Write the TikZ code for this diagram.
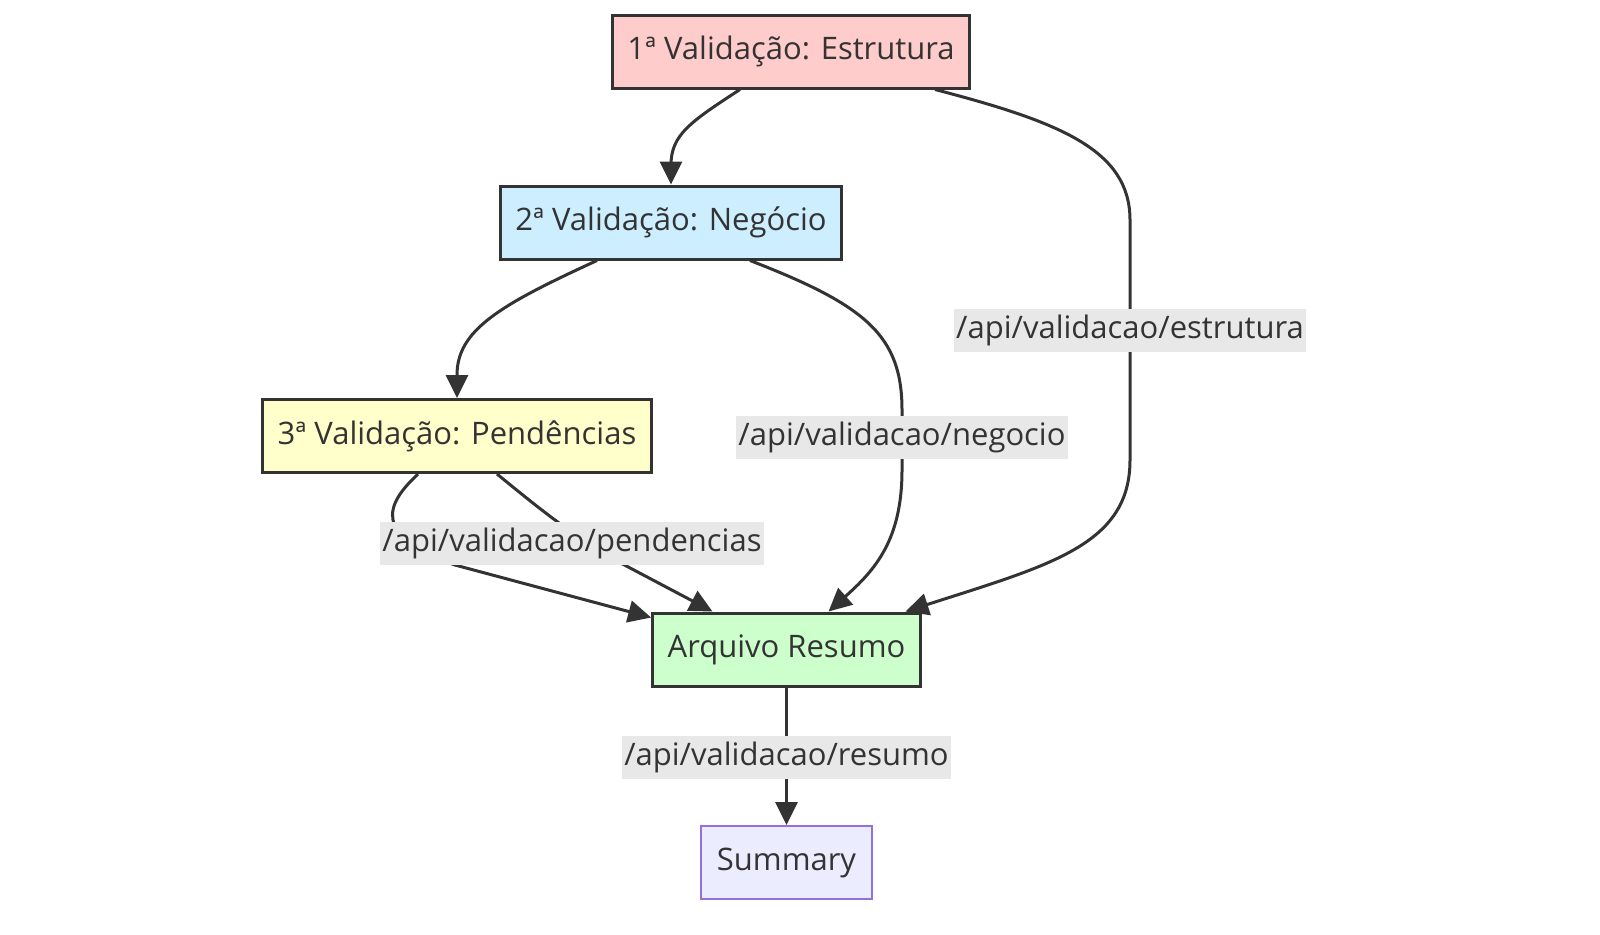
\documentclass[tikz,border=0pt]{standalone}
\usepackage{fontspec}
\setmainfont{Open Sans}
\usetikzlibrary{arrows.meta}
\definecolor{ink}{HTML}{333333}
\definecolor{estrutura}{HTML}{FFCCCC}
\definecolor{negocio}{HTML}{CCEEFF}
\definecolor{pendencias}{HTML}{FFFFCC}
\definecolor{resumo}{HTML}{CCFFCC}
\definecolor{summary}{HTML}{ECECFF}
\definecolor{summaryline}{HTML}{9370DB}
\definecolor{labelbg}{HTML}{E8E8E8}
\begin{document}
\begin{tikzpicture}[x=0.5pt, y=-0.5pt,
    every node/.style={font=\fontsize{15.5}{19}\selectfont, text=ink},
    stepnode/.style={draw=ink, line width=1.5pt, minimum height=36.5pt, inner xsep=7.5pt},
    flow/.style={draw=ink, line width=1.5pt, -{Triangle[length=11.5pt, width=11pt]}},
    route/.style={fill=labelbg, inner xsep=1pt, inner ysep=3pt}]
    \useasboundingbox (0,0) rectangle (1600,934);

    % nodes
    \node[stepnode, fill=estrutura] (val1) at (791,51.5) {1ª Validação: Estrutura};
    \node[stepnode, fill=negocio] (val2) at (671,222.5) {2ª Validação: Negócio};
    \node[stepnode, fill=pendencias] (val3) at (457,436) {3ª Validação: Pendências};
    \node[stepnode, fill=resumo] (arq) at (786.5,649.5) {Arquivo Resumo};
    \node[draw=summaryline, line width=1pt, fill=summary, minimum height=36.5pt, inner xsep=8pt] (sum) at (786.5,862.5) {Summary};

    % edges
    \draw[flow] ([xshift=-25.5pt]val1.south) .. controls (690,122) and (671,135) .. (671,165) -- (val2.north);
    \draw[flow] ([xshift=72pt]val1.south) .. controls (1060,122) and (1130,150) .. (1130,220)
        -- (1130,460) .. controls (1130,545) and (1050,565) .. ([xshift=59.5pt]arq.north);
    \draw[flow] ([xshift=-37pt]val2.south) .. controls (500,305) and (457,330) .. (457,375) -- (val3.north);
    \draw[flow] ([xshift=39.5pt]val2.south) .. controls (865,305) and (902,335) .. (902,410)
        -- (902,470) .. controls (902,540) and (875,570) .. ([xshift=21pt]arq.north);
    \draw[flow] ([xshift=-19.5pt]val3.south) .. controls (385,505) and (372,535) .. (455,565) -- ([yshift=-3pt]arq.north west);
    \draw[flow] ([xshift=20pt]val3.south) .. controls (535,505) and (565,530) .. (615,560) -- ([xshift=-37pt]arq.north);
    \draw[flow] (arq.south) -- (sum.north);

    % labels
    \node[route] (lbl1) at (1130,330) {/api/validacao/estrutura};
    \node[route] (lbl2) at (902,437) {/api/validacao/negocio};
    \node[route] (lbl3) at (572,543) {/api/validacao/pendencias};
    \node[route] (lbl4) at (786.5,757) {/api/validacao/resumo};
\end{tikzpicture}
\end{document}
